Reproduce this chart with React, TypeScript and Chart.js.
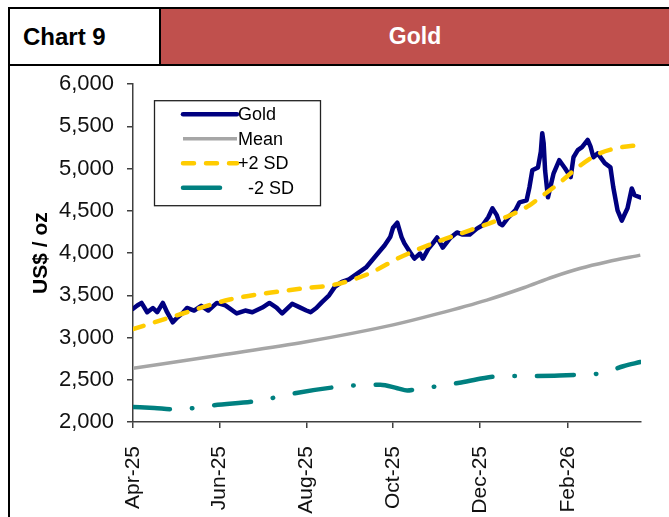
import React, { useEffect, useRef } from 'react';
import { Chart, registerables } from 'chart.js';

Chart.register(...registerables);

const FONT = '"Liberation Sans", Arial, Helvetica, sans-serif';

// ---- data ----
const goldDates = [
  '2025-04-01','2025-04-04','2025-04-07','2025-04-11','2025-04-15','2025-04-18','2025-04-22','2025-04-25','2025-04-29',
  '2025-05-02','2025-05-06','2025-05-09','2025-05-14','2025-05-19','2025-05-24','2025-05-30',
  '2025-06-05','2025-06-08','2025-06-13','2025-06-19','2025-06-24',
  '2025-07-01','2025-07-06','2025-07-11','2025-07-15','2025-07-22','2025-07-27',
  '2025-08-01','2025-08-04','2025-08-08','2025-08-12','2025-08-17','2025-08-21','2025-08-26','2025-08-31',
  '2025-09-06','2025-09-12','2025-09-17','2025-09-22','2025-09-25','2025-09-29',
  '2025-10-01','2025-10-04','2025-10-07','2025-10-09','2025-10-13','2025-10-16','2025-10-20','2025-10-22','2025-10-26','2025-10-29',
  '2025-11-01','2025-11-05','2025-11-10','2025-11-15','2025-11-19','2025-11-24','2025-11-29',
  '2025-12-03','2025-12-07','2025-12-10','2025-12-13','2025-12-15','2025-12-17','2025-12-21','2025-12-26','2025-12-29',
  '2026-01-03','2026-01-05','2026-01-07','2026-01-11','2026-01-13','2026-01-14','2026-01-15','2026-01-16','2026-01-18','2026-01-22','2026-01-26','2026-01-30',
  '2026-02-03','2026-02-05','2026-02-08','2026-02-11','2026-02-15','2026-02-17','2026-02-19','2026-02-22','2026-02-27',
  '2026-03-03','2026-03-05','2026-03-08','2026-03-11','2026-03-13','2026-03-15','2026-03-18','2026-03-20','2026-03-24',
];
const goldValues = [
  3340,3380,3410,3300,3350,3300,3410,3300,3180,
  3235,3290,3350,3320,3375,3320,3410,
  3380,3345,3285,3320,3300,
  3355,3410,3355,3285,3400,3360,
  3320,3300,3350,3420,3500,3600,3660,3690,
  3760,3830,3930,4030,4090,4190,
  4300,4360,4190,4115,4010,3935,3995,3935,4055,4115,
  4185,4065,4175,4245,4220,4220,4290,
  4330,4425,4530,4450,4350,4330,4420,4505,4600,
  4625,4780,4980,5015,5200,5420,5300,4980,4660,4945,5100,5005,
  4900,5135,5220,5255,5340,5260,5135,5180,5065,
  5015,4780,4505,4385,4460,4530,4765,4685,4660,
];

const meanDates = ['2025-04-01','2025-06-01','2025-08-01','2025-10-01','2025-11-01','2025-12-06','2026-01-01','2026-01-22','2026-02-10','2026-03-01','2026-03-24'];
const meanValues = [2635,2790,2950,3150,3280,3444,3590,3720,3820,3897,3976];

const plus2Dates = ['2025-04-01','2025-05-06','2025-06-08','2025-07-06','2025-08-03','2025-08-19','2025-09-13','2025-10-06','2025-10-29','2025-11-24','2025-12-22','2026-01-05','2026-01-11','2026-01-26','2026-02-08','2026-02-22','2026-03-08','2026-03-24'];
const plus2Values = [3100,3285,3450,3530,3590,3620,3750,3950,4115,4270,4445,4565,4640,4830,5015,5170,5245,5280];

const minus2Dates = ['2025-04-01','2025-04-16','2025-04-30','2025-05-14','2025-05-28','2025-06-27','2025-07-11','2025-07-25','2025-08-22','2025-09-06','2025-09-22','2025-10-04','2025-10-11','2025-10-19','2025-11-03','2025-11-18','2025-12-14','2026-01-06','2026-01-26','2026-02-15','2026-02-26','2026-03-12','2026-03-24'];
const minus2Values = [2178,2165,2150,2166,2199,2249,2294,2344,2414,2435,2440,2400,2373,2394,2428,2468,2540,2545,2550,2565,2580,2660,2710];

const tickDates = ['2025-04-01','2025-06-01','2025-08-01','2025-10-01','2025-12-01','2026-02-01'];
const tickLabels = ['Apr-25','Jun-25','Aug-25','Oct-25','Dec-25','Feb-26'];
const yMin = 2000;
const yMax = 6000;
const yStep = 500;
const axisEndDate = '2026-03-24';

const START = Date.UTC(2025, 3, 1);
const toDay = (s: string) => {
  const [y, m, d] = s.split('-').map(Number);
  return (Date.UTC(y, m - 1, d) - START) / 86400000;
};
const pts = (dates: string[], vals: number[]) => dates.map((d, i) => ({ x: toDay(d), y: vals[i] }));

const legendPlugin = {
  id: 'boxLegend',
  afterDatasetsDraw(chart: any) {
    const { ctx, chartArea } = chart;
    const x0 = chartArea.left + 21;
    const y0 = chartArea.top + 16;
    const w = 166;
    const h = 105;
    ctx.save();
    ctx.fillStyle = '#fff';
    ctx.fillRect(x0, y0, w, h);
    ctx.strokeStyle = '#222';
    ctx.lineWidth = 1.3;
    ctx.setLineDash([]);
    ctx.strokeRect(x0 + 0.5, y0 + 0.5, w, h);
    chart.data.datasets.forEach((ds: any, i: number) => {
      const y = y0 + 14 + i * 24.5;
      ctx.beginPath();
      ctx.setLineDash(ds.borderDash || []);
      ctx.lineCap = ds.borderCapStyle || 'butt';
      ctx.strokeStyle = ds.borderColor;
      ctx.lineWidth = ds.borderWidth;
      ctx.moveTo(x0 + 29, y);
      ctx.lineTo(x0 + 83, y);
      ctx.stroke();
      ctx.setLineDash([]);
      ctx.fillStyle = '#000';
      ctx.font = `18px ${FONT}`;
      ctx.textBaseline = 'middle';
      ctx.textAlign = 'left';
      ctx.fillText(ds.legendText, x0 + 84, y + 1);
    });
    ctx.restore();
  },
};

function GoldChart() {
  const ref = useRef<HTMLCanvasElement | null>(null);
  useEffect(() => {
    if (!ref.current) return;
    const tickDays = tickDates.map(toDay);
    const chart = new Chart(ref.current, {
      type: 'line',
      data: {
        datasets: [
          {
            label: 'Gold', legendText: 'Gold',
            data: pts(goldDates, goldValues),
            borderColor: '#000080', borderWidth: 4.5, pointRadius: 0, tension: 0,
            borderJoinStyle: 'round', borderCapStyle: 'round', order: 4,
          } as any,
          {
            label: 'Mean', legendText: 'Mean',
            data: pts(meanDates, meanValues),
            borderColor: '#A6A6A6', borderWidth: 3.5, pointRadius: 0, cubicInterpolationMode: 'monotone',
            borderCapStyle: 'butt', order: 3,
          } as any,
          {
            label: '+2 SD', legendText: '+2 SD',
            data: pts(plus2Dates, plus2Values),
            borderColor: '#FFCC00', borderWidth: 4.5, pointRadius: 0, cubicInterpolationMode: 'monotone',
            borderDash: [11, 12], borderCapStyle: 'round', order: 2,
          } as any,
          {
            label: '-2 SD', legendText: '  -2 SD',
            data: pts(minus2Dates, minus2Values),
            borderColor: '#008080', borderWidth: 4.5, pointRadius: 0, cubicInterpolationMode: 'monotone',
            borderDash: [37, 22, 0.5, 22], borderCapStyle: 'round', order: 1,
          } as any,
        ],
      },
      options: {
        responsive: false,
        animation: false,
        devicePixelRatio: 1,
        layout: { padding: { left: 0, top: 10, right: 28, bottom: 0 } },
        plugins: { legend: { display: false }, tooltip: { enabled: false } },
        scales: {
          x: {
            type: 'linear',
            min: 0,
            max: toDay(axisEndDate) + 0.5,
            afterBuildTicks: (scale: any) => { scale.ticks = tickDays.map((v) => ({ value: v })); },
            afterFit: (scale: any) => { scale.height = 95; },
            ticks: {
              autoSkip: false,
              minRotation: 90,
              maxRotation: 90,
              padding: 18,
              color: '#111',
              font: { family: FONT, size: 21 },
              callback: (v: any) => { const i = tickDays.indexOf(Number(v)); return i >= 0 ? tickLabels[i] : ''; },
            },
            grid: { drawOnChartArea: false, drawTicks: true, tickLength: 6, color: '#404040', lineWidth: 1.5 },
            border: { display: true, color: '#404040', width: 1.5 },
          },
          y: {
            type: 'linear',
            min: yMin,
            max: yMax,
            afterFit: (scale: any) => { scale.width = 123; },
            ticks: {
              stepSize: yStep,
              padding: 13,
              color: '#111',
              font: { family: FONT, size: 22 },
              callback: (v: any) => Number(v).toLocaleString('en-US'),
            },
            title: {
              display: true,
              text: 'US$ / oz',
              color: '#000',
              font: { family: FONT, size: 21, weight: 'bold' },
              padding: { top: 19, bottom: 0 },
            },
            grid: { drawOnChartArea: false, drawTicks: true, tickLength: 6, color: '#404040', lineWidth: 1.5 },
            border: { display: true, color: '#404040', width: 1.5 },
          },
        },
      } as any,
      plugins: [legendPlugin],
    });
    return () => chart.destroy();
  }, []);
  return <canvas ref={ref} width={659} height={459} style={{ width: 659, height: 459, display: 'block' }} />;
}

export default function App() {
  return (
    <div style={{ position: 'fixed', left: 0, top: 0, width: 669, height: 517, overflow: 'hidden', background: '#fff', fontFamily: FONT }}>
      <div style={{ position: 'absolute', left: 8, top: 7, width: 661, height: 59, boxSizing: 'border-box', borderTop: '2px solid #000', borderLeft: '2px solid #000', borderBottom: '2px solid #000', display: 'flex' }}>
        <div style={{ width: 151, boxSizing: 'border-box', borderRight: '2px solid #000', display: 'flex', alignItems: 'center', paddingLeft: 13, fontWeight: 'bold', fontSize: 24, color: '#000' }}>Chart 9</div>
        <div style={{ flex: 1, background: '#C0504D', color: '#fff', display: 'flex', alignItems: 'center', justifyContent: 'center', fontWeight: 'bold', fontSize: 23 }}>Gold</div>
      </div>
      <div style={{ position: 'absolute', left: 8, top: 64, width: 2, height: 453, background: '#000' }} />
      <div style={{ position: 'absolute', left: 10, top: 58 }}>
        <GoldChart />
      </div>
    </div>
  );
}
